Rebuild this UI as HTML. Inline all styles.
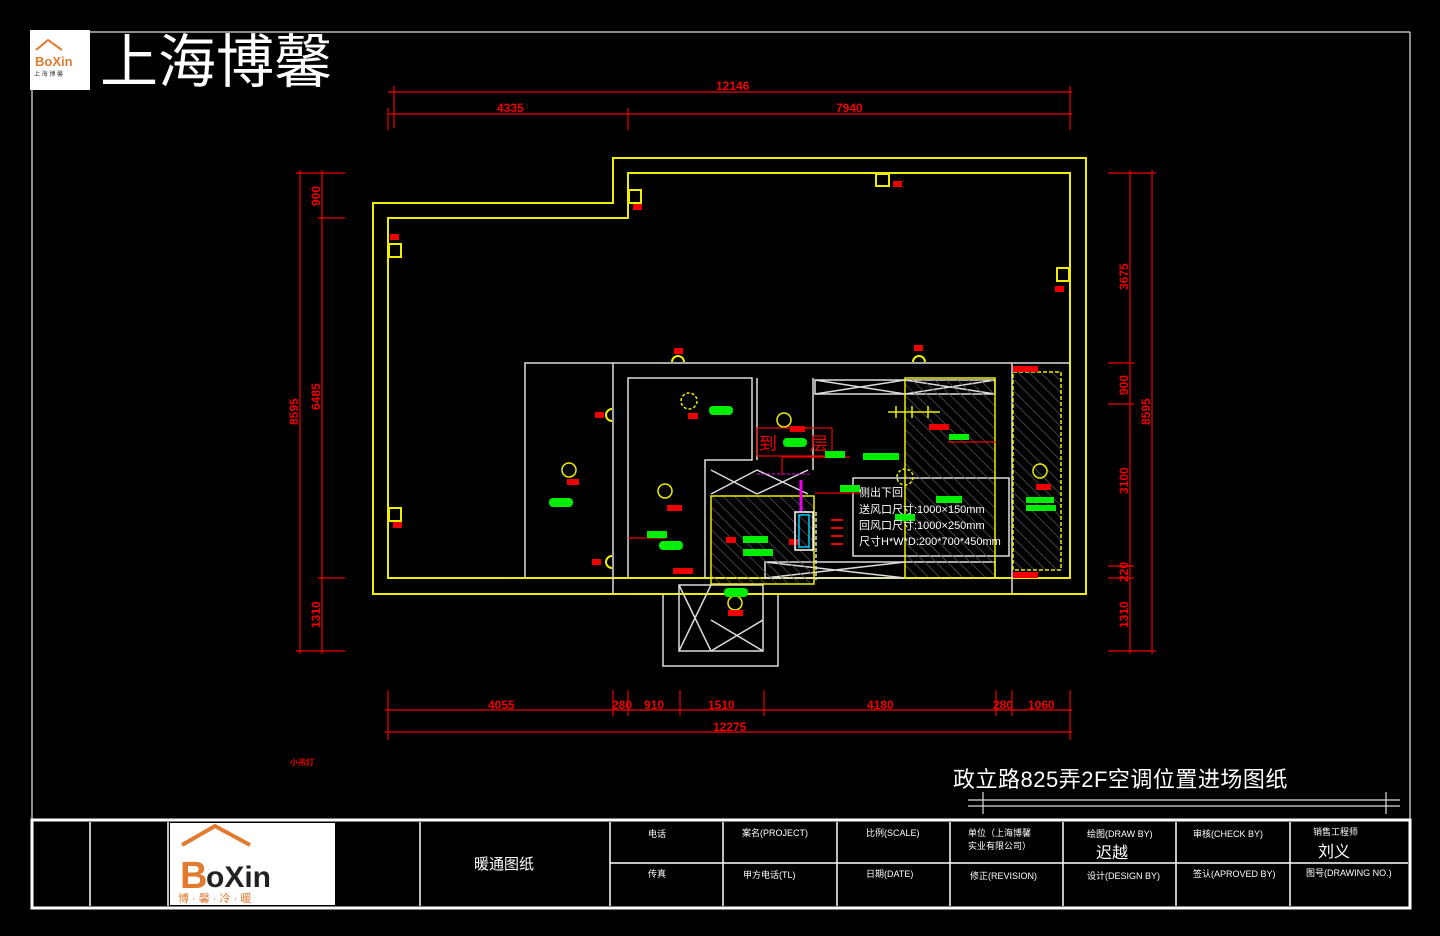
<!DOCTYPE html>
<html><head><meta charset="utf-8"><style>
html,body{margin:0;padding:0;background:#000;width:1440px;height:936px;overflow:hidden}
svg{display:block}
text{font-family:"Liberation Sans","Noto Sans CJK SC",sans-serif}
</style></head><body>
<svg width="1440" height="936" viewBox="0 0 1440 936" xmlns="http://www.w3.org/2000/svg">
<rect width="1440" height="936" fill="#000"/>
<g stroke="#bbb" stroke-width="1.5" fill="none">
<line x1="90" y1="32" x2="1410" y2="32"/>
<line x1="1410" y1="32" x2="1410" y2="820"/>
<line x1="32" y1="90" x2="32" y2="820"/>
</g>
<rect x="30" y="30" width="60" height="60" fill="#fff"/>
<path d="M36 50 L48 40 L62 50" stroke="#e07b30" stroke-width="2" fill="none"/>
<text x="35" y="66" font-size="13" fill="#e07b30" font-weight="bold">BoXin</text>
<text x="34" y="76" font-size="6" fill="#333">上 海 博 馨</text>
<text x="100" y="82" font-size="58" fill="#fff">上海博馨</text>

<g stroke="#e00" stroke-width="1.2" fill="none">
<line x1="388" y1="92" x2="1072" y2="92"/>
<line x1="388" y1="114" x2="1072" y2="114"/>
<line x1="394" y1="86" x2="394" y2="128"/><line x1="388" y1="108" x2="388" y2="130"/>
<line x1="628" y1="108" x2="628" y2="130"/><line x1="1070" y1="86" x2="1070" y2="130"/>
<line x1="300" y1="170" x2="300" y2="654"/><line x1="322" y1="170" x2="322" y2="654"/>
<line x1="296" y1="173" x2="345" y2="173"/><line x1="318" y1="218" x2="345" y2="218"/>
<line x1="318" y1="578" x2="345" y2="578"/><line x1="296" y1="651" x2="345" y2="651"/>
<line x1="1130" y1="170" x2="1130" y2="654"/><line x1="1152" y1="170" x2="1152" y2="654"/>
<line x1="1108" y1="173" x2="1156" y2="173"/><line x1="1108" y1="363" x2="1134" y2="363"/>
<line x1="1108" y1="404" x2="1134" y2="404"/><line x1="1108" y1="566" x2="1134" y2="566"/>
<line x1="1108" y1="578" x2="1134" y2="578"/><line x1="1108" y1="651" x2="1156" y2="651"/>
<line x1="385" y1="710" x2="1072" y2="710"/><line x1="385" y1="732" x2="1072" y2="732"/>
<line x1="388" y1="690" x2="388" y2="740"/><line x1="613" y1="690" x2="613" y2="716"/>
<line x1="628" y1="690" x2="628" y2="716"/><line x1="680" y1="690" x2="680" y2="716"/>
<line x1="764" y1="690" x2="764" y2="716"/><line x1="996" y1="690" x2="996" y2="716"/>
<line x1="1012" y1="690" x2="1012" y2="716"/><line x1="1070" y1="690" x2="1070" y2="740"/>
</g>
<g fill="#e00" font-size="12" font-weight="bold">
<text x="716" y="90">12146</text><text x="497" y="112">4335</text><text x="836" y="112">7940</text>
<text x="488" y="709">4055</text><text x="612" y="709">280</text><text x="644" y="709">910</text>
<text x="708" y="709">1510</text><text x="867" y="709">4180</text><text x="993" y="709">280</text><text x="1028" y="709">1060</text>
<text x="713" y="731">12275</text>
<text x="290" y="765" font-size="8">小吊灯</text>
</g>
<g fill="#e00" font-size="12" font-weight="bold">
<text transform="translate(298,425) rotate(-90)">8595</text>
<text transform="translate(320,410) rotate(-90)">6485</text>
<text transform="translate(320,206) rotate(-90)">900</text>
<text transform="translate(320,628) rotate(-90)">1310</text>
<text transform="translate(1150,425) rotate(-90)">8595</text>
<text transform="translate(1128,290) rotate(-90)">3675</text>
<text transform="translate(1128,395) rotate(-90)">900</text>
<text transform="translate(1128,494) rotate(-90)">3100</text>
<text transform="translate(1128,582) rotate(-90)">220</text>
<text transform="translate(1128,628) rotate(-90)">1310</text>
</g>

<g stroke="#ee0" stroke-width="2" fill="none">
<path d="M373 203 H613 V158 H1086 V594 H373 Z"/>
<path d="M388 218 H628 V173 H1070 V578 H388 Z"/>
<rect x="389" y="244" width="12" height="13"/><rect x="389" y="508" width="12" height="13"/>
<rect x="629" y="190" width="12" height="13"/><rect x="876" y="174" width="13" height="12"/>
<rect x="1057" y="268" width="12" height="13"/>
<path d="M672 362 A6 6 0 0 1 684 362"/><path d="M913 362 A6 6 0 0 1 925 362"/>
<path d="M612 409 A6 6 0 0 0 612 421"/><path d="M612 556 A6 6 0 0 0 612 568"/>
</g>
<g stroke="#ddd" stroke-width="1.5" fill="none">
<path d="M525 578 V363 H1070"/>
<line x1="613" y1="363" x2="613" y2="594"/>
<path d="M628 578 V378 H752 V460 H705 V578"/>
<path d="M757 378 V460 M813 378 V470"/>
<rect x="815" y="380" width="180" height="14"/>
<path d="M1012 363 V594"/>
<path d="M663 594 V666 H778 V594"/>
<rect x="679" y="585" width="84" height="66"/>
<path d="M679 585 L711 651 M711 585 L679 651"/>
<path d="M711 620 L763 651 M763 620 L711 651"/>
<path d="M711 470 L757 494 M757 470 L711 494 M757 470 L808 494 M808 470 L757 494"/>
<path d="M765 562 H995 V578 H765 Z"/>
<path d="M765 562 L905 578 M905 562 L765 578"/>
<path d="M815 380 L905 394 M905 380 L815 394 M905 380 L995 394 M995 380 L905 394"/>
<rect x="853" y="478" width="156" height="78"/>
</g>
<defs><pattern id="h" width="8" height="8" patternUnits="userSpaceOnUse" patternTransform="rotate(-45)"><line x1="0" y1="0" x2="0" y2="8" stroke="#555" stroke-width="1.5"/></pattern></defs>
<rect x="711" y="496" width="103" height="88" fill="url(#h)"/>
<rect x="905" y="380" width="90" height="198" fill="url(#h)"/>
<rect x="1013" y="372" width="48" height="198" fill="url(#h)"/>
<g stroke="#ee0" stroke-width="1.5" fill="none">
<rect x="905" y="378" width="90" height="200"/>
<rect x="1013" y="372" width="48" height="198" stroke-dasharray="4 2"/>
<rect x="711" y="496" width="103" height="88"/>
<circle cx="569" cy="470" r="7"/><circle cx="665" cy="491" r="7"/><circle cx="784" cy="420" r="7"/>
<circle cx="1040" cy="471" r="7"/><circle cx="735" cy="603" r="7"/>
<circle cx="689" cy="401" r="8" stroke-dasharray="3 2"/><circle cx="905" cy="477" r="8" stroke-dasharray="3 2"/>
<path d="M888 412 H940 M896 406 V418 M912 406 V418 M928 406 V418"/>
</g>
<g fill="#e00">
<rect x="390" y="234" width="9" height="6"/><rect x="393" y="522" width="9" height="6"/>
<rect x="633" y="204" width="9" height="6"/><rect x="893" y="181" width="9" height="6"/>
<rect x="1055" y="286" width="9" height="6"/><rect x="674" y="348" width="9" height="6"/>
<rect x="914" y="345" width="9" height="6"/><rect x="595" y="412" width="9" height="6"/>
<rect x="592" y="559" width="9" height="6"/><rect x="567" y="479" width="12" height="6"/>
<rect x="688" y="413" width="10" height="6"/><rect x="667" y="505" width="15" height="6"/>
<rect x="790" y="426" width="15" height="6"/><rect x="673" y="568" width="20" height="6"/>
<rect x="728" y="610" width="15" height="6"/><rect x="929" y="424" width="20" height="6"/>
<rect x="1036" y="484" width="15" height="6"/><rect x="1013" y="366" width="25" height="6"/>
<rect x="1013" y="572" width="25" height="6"/><rect x="726" y="537" width="10" height="6"/>
<rect x="789" y="539" width="10" height="6"/>
</g>
<g stroke="#e00" stroke-width="1.2" fill="none">
<rect x="757" y="428" width="75" height="28"/>
<path d="M782 457 H850 M782 457 V475 M815 493 H860 M628 538 H666 M948 442 H996"/>
</g>
<text x="759" y="450" fill="#e00" font-size="18">到</text><text x="810" y="450" fill="#e00" font-size="18">层</text>
<g fill="#0e0">
<rect x="709" y="406" width="24" height="9" rx="4"/><rect x="549" y="498" width="24" height="9" rx="4"/>
<rect x="659" y="541" width="24" height="9" rx="4"/><rect x="783" y="438" width="24" height="9" rx="4"/>
<rect x="724" y="588" width="24" height="9" rx="4"/>
<rect x="647" y="531" width="20" height="7"/><rect x="825" y="451" width="20" height="7"/>
<rect x="863" y="453" width="36" height="7"/><rect x="840" y="485" width="20" height="7"/>
<rect x="743" y="536" width="25" height="7"/><rect x="743" y="549" width="30" height="7"/>
<rect x="936" y="496" width="26" height="7"/><rect x="895" y="514" width="20" height="7"/>
<rect x="949" y="434" width="20" height="6"/>
<rect x="1026" y="497" width="28" height="6"/><rect x="1026" y="505" width="30" height="6"/>
</g>
<path d="M801 480 V512" stroke="#e0e" stroke-width="3"/>
<line x1="757" y1="474" x2="810" y2="474" stroke="#e0e" stroke-width="1" stroke-dasharray="3 2"/>
<rect x="795" y="512" width="18" height="38" fill="none" stroke="#fff" stroke-width="1.5"/>
<rect x="799" y="515" width="10" height="32" fill="none" stroke="#0cf" stroke-width="1.5"/>
<line x1="816" y1="512" x2="816" y2="580" stroke="#ddd" stroke-width="1.5" stroke-dasharray="4 2"/>
<g stroke="#e00" stroke-width="2"><line x1="831" y1="520" x2="843" y2="520"/><line x1="831" y1="528" x2="843" y2="528"/><line x1="831" y1="536" x2="843" y2="536"/><line x1="831" y1="544" x2="843" y2="544"/></g>
<g fill="#fff" font-size="11">
<text x="859" y="496">侧出下回</text>
<text x="859" y="513">送风口尺寸:1000×150mm</text>
<text x="859" y="529">回风口尺寸:1000×250mm</text>
<text x="859" y="545">尺寸H*W*D:200*700*450mm</text>
</g>

<text x="953" y="787" fill="#fff" font-size="22" letter-spacing="0.5">政立路825弄2F空调位置进场图纸</text>
<g stroke="#ddd" stroke-width="1.2"><line x1="968" y1="800" x2="1400" y2="800"/><line x1="983" y1="792" x2="983" y2="814"/><line x1="1386" y1="792" x2="1386" y2="814"/><line x1="968" y1="806" x2="1400" y2="806"/></g>

<g stroke="#fff" fill="none">
<rect x="32" y="820" width="1378" height="88" stroke-width="3"/>
<g stroke-width="1.5">
<line x1="90" y1="822" x2="90" y2="906"/><line x1="168" y1="822" x2="168" y2="906"/>
<line x1="420" y1="822" x2="420" y2="906"/><line x1="610" y1="822" x2="610" y2="906"/>
<line x1="723" y1="822" x2="723" y2="906"/><line x1="837" y1="822" x2="837" y2="906"/>
<line x1="950" y1="822" x2="950" y2="906"/><line x1="1063" y1="822" x2="1063" y2="906"/>
<line x1="1176" y1="822" x2="1176" y2="906"/><line x1="1290" y1="822" x2="1290" y2="906"/>
<line x1="610" y1="863" x2="1408" y2="863"/>
</g></g>
<rect x="170" y="823" width="165" height="82" fill="#fff"/>
<path d="M182 845 L215 826 L250 845" stroke="#e07b30" stroke-width="4" fill="none"/>
<text x="180" y="888" font-size="38" fill="#e07b30" font-weight="bold">B</text>
<text x="206" y="887" font-size="30" fill="#222" font-weight="bold">oXin</text>
<text x="178" y="902" font-size="11" fill="#e07b30">博 · 馨 · 冷 · 暖</text>
<text x="474" y="869" fill="#fff" font-size="15">暖通图纸</text>
<g fill="#fff" font-size="9">
<text x="648" y="837">电话</text><text x="742" y="836">案名(PROJECT)</text><text x="866" y="836">比例(SCALE)</text>
<text x="968" y="836">单位（上海博馨</text><text x="968" y="849">实业有限公司）</text>
<text x="1087" y="837">绘图(DRAW BY)</text><text x="1193" y="837">审核(CHECK BY)</text><text x="1313" y="835">销售工程师</text>
<text x="648" y="877">传真</text><text x="743" y="878">甲方电话(TL)</text><text x="866" y="877">日期(DATE)</text>
<text x="970" y="879">修正(REVISION)</text><text x="1087" y="879">设计(DESIGN BY)</text><text x="1193" y="877">签认(APROVED BY)</text><text x="1306" y="876">图号(DRAWING NO.)</text>
</g>
<text x="1096" y="858" fill="#fff" font-size="16">迟越</text>
<text x="1318" y="857" fill="#fff" font-size="16">刘义</text>
</svg>
</body></html>
